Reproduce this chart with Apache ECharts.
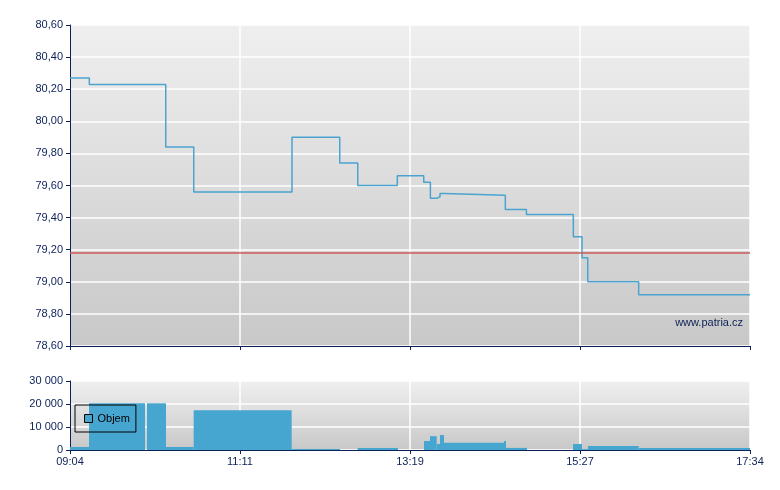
<!DOCTYPE html>
<html>
<head>
<meta charset="utf-8">
<script src="https://cdn.jsdelivr.net/npm/echarts@6/dist/echarts.min.js"></script>
<style>
html, body { margin: 0; padding: 0; background: #fff; }
#chart { width: 780px; height: 490px; }
</style>
</head>
<body>
<div id="chart"></div>
<script>
// minutes after 09:04 and the price from that moment
var priceTimes = [0, 14.5, 71.8, 92.8, 166.5, 202.3, 215.8, 245.5, 265.3, 270.3, 275, 277.5, 280.5, 326.5, 342.3, 377.5, 384, 388.3, 426.5, 510];
var priceValues = [80.27, 80.23, 79.84, 79.56, 79.90, 79.74, 79.60, 79.66, 79.62, 79.52, 79.53, 79.55, 79.54, 79.45, 79.42, 79.28, 79.15, 79.00, 78.92, 78.92];
var refPrice = 79.18;

// volume blocks: start, end (minutes after 09:04), volume
var volStart = [0, 14.25, 57.75, 72, 92.75, 166.25, 215.75, 265.5, 270, 275, 277.5, 280.5, 325.5, 327, 377.25, 384, 388.5, 426.5];
var volEnd = [14.25, 56.25, 72, 92.75, 166.25, 202.5, 246, 270, 275, 277.5, 280.5, 325.5, 327, 342.75, 384, 388.5, 426.5, 510];
var volValues = [1300, 20300, 20300, 1300, 17300, 400, 900, 3900, 6000, 2600, 6500, 3100, 3900, 900, 2600, 400, 1700, 900];

var timeLabels = ['09:04', '11:11', '13:19', '15:27', '17:34'];

var navy = '#0c2156';
var blue = '#47a6cf';
var font = 'Liberation Sans, Arial, sans-serif';

var priceData = [];
for (var i = 0; i < priceTimes.length; i++) {
	priceData.push([priceTimes[i], priceValues[i]]);
}
var volData = [];
for (var i = 0; i < volStart.length; i++) {
	volData.push([volStart[i], volEnd[i], volValues[i]]);
}

function bg() {
	return new echarts.graphic.LinearGradient(0, 0, 0, 1, [
		{ offset: 0, color: '#efefef' },
		{ offset: 1, color: '#c8c8c8' }
	]);
}

function xAxis(idx, showLabels) {
	return {
		type: 'value',
		gridIndex: idx,
		min: 0,
		max: 510,
		interval: 127.5,
		axisLine: { show: true, lineStyle: { color: navy, width: 1 } },
		axisTick: { show: true, length: 4, lineStyle: { color: navy } },
		axisLabel: {
			show: showLabels,
			color: navy,
			fontFamily: font,
			fontSize: 11,
			margin: 6,
			formatter: function(v) {
				return timeLabels[Math.round(v / 127.5)];
			}
		},
		splitLine: { show: true, lineStyle: { color: '#fff', width: 1.5 } }
	};
}

var myChart = echarts.init(document.getElementById('chart'));
var option = {
	animation: false,
	grid: [
		{ left: 70, right: 30, top: 25, height: 321, show: true, backgroundColor: bg(), borderWidth: 0 },
		{ left: 70, right: 30, top: 381, height: 69, show: true, backgroundColor: bg(), borderWidth: 0 }
	],
	xAxis: [xAxis(0, false), xAxis(1, true)],
	yAxis: [{
		type: 'value',
		gridIndex: 0,
		min: 78.6,
		max: 80.6,
		interval: 0.2,
		axisLine: { show: true, lineStyle: { color: navy, width: 1 } },
		axisTick: { show: true, length: 4, lineStyle: { color: navy } },
		axisLabel: {
			color: navy,
			fontFamily: font,
			fontSize: 11,
			margin: 7,
			formatter: function(v) {
				return v.toFixed(2).replace('.', ',');
			}
		},
		splitLine: { show: true, lineStyle: { color: '#fff', width: 1.5 } }
	}, {
		type: 'value',
		gridIndex: 1,
		min: 0,
		max: 30000,
		interval: 10000,
		axisLine: { show: true, lineStyle: { color: navy, width: 1 } },
		axisTick: { show: true, length: 4, lineStyle: { color: navy } },
		axisLabel: {
			color: navy,
			fontFamily: font,
			fontSize: 11,
			margin: 7,
			formatter: function(v) {
				return String(v).replace(/\B(?=(\d{3})+(?!\d))/g, ' ');
			}
		},
		splitLine: { show: true, lineStyle: { color: '#fff', width: 1.5 } }
	}],
	legend: {
		left: 75,
		top: 405,
		orient: 'horizontal',
		padding: [8, 6, 8, 9],
		borderColor: '#000',
		borderWidth: 1,
		itemWidth: 8,
		itemHeight: 8,
		itemGap: 4,
		textStyle: { color: '#000', fontFamily: font, fontSize: 11 },
		data: [{ name: 'Objem', icon: 'rect', itemStyle: { color: blue, borderColor: '#000', borderWidth: 1 } }]
	},
	graphic: [{
		type: 'text',
		right: 37,
		top: 317,
		style: { text: 'www.patria.cz', fill: navy, font: '11px ' + font }
	}],
	series: [{
		name: 'Cena',
		type: 'line',
		xAxisIndex: 0,
		yAxisIndex: 0,
		step: 'end',
		showSymbol: false,
		lineStyle: { color: '#4ba3cf', width: 1.5 },
		data: priceData,
		markLine: {
			silent: true,
			symbol: 'none',
			label: { show: false },
			lineStyle: { color: '#cc5a5a', width: 1.5, type: 'solid' },
			data: [{ yAxis: refPrice }]
		}
	}, {
		name: 'Objem',
		type: 'custom',
		xAxisIndex: 1,
		yAxisIndex: 1,
		encode: { x: [0, 1], y: 2 },
		data: volData,
		renderItem: function(params, api) {
			var s = api.coord([api.value(0), 0]);
			var e = api.coord([api.value(1), api.value(2)]);
			return {
				type: 'rect',
				shape: { x: s[0], y: e[1], width: e[0] - s[0], height: s[1] - e[1] },
				style: { fill: blue }
			};
		}
	}]
};
myChart.setOption(option);
</script>
</body>
</html>
